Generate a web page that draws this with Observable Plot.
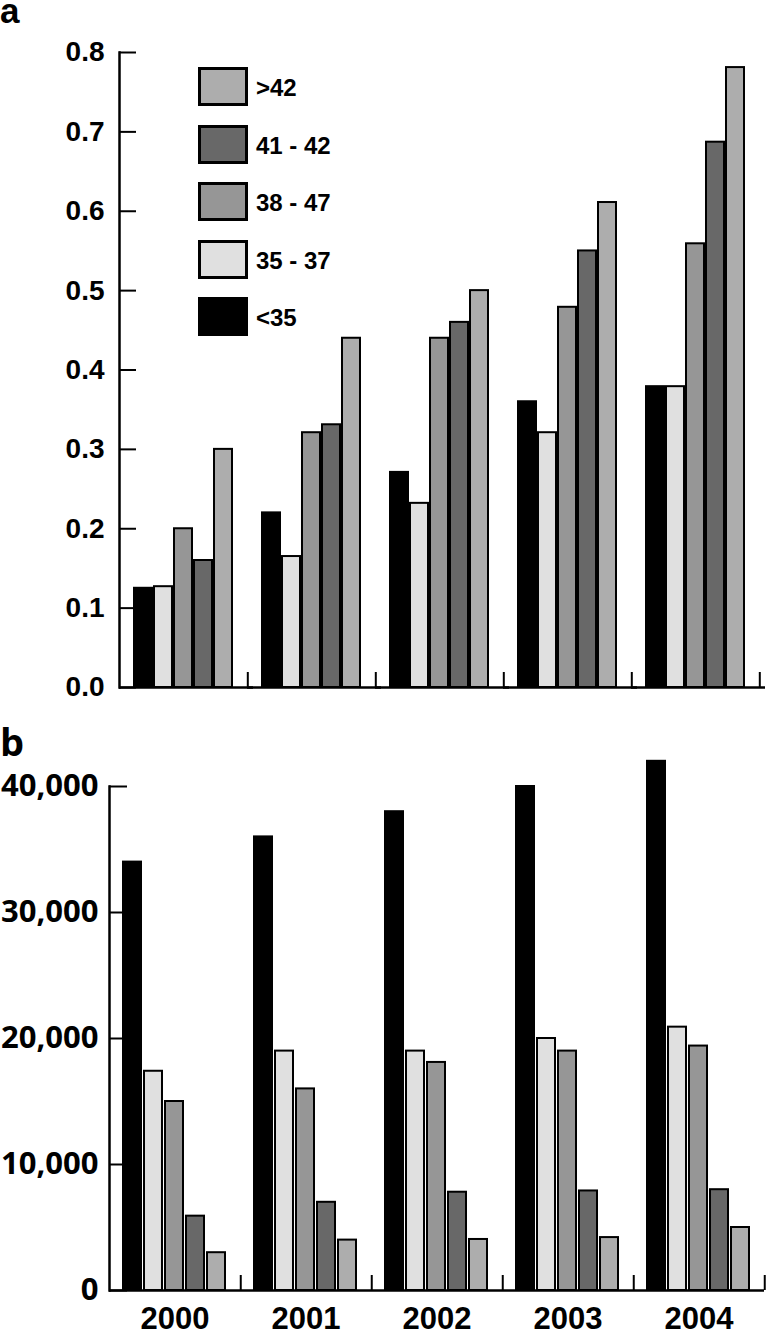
<!DOCTYPE html>
<html><head><meta charset="utf-8">
<script src="https://cdn.jsdelivr.net/npm/d3@7"></script>
<script src="https://cdn.jsdelivr.net/npm/@observablehq/plot@0.6"></script>
<style>
body{margin:0;background:#fff;}
#root{position:relative;width:767px;height:1335px;overflow:hidden;background:#fff;}
.abs{position:absolute;}
.panel-label{position:absolute;font-weight:bold;color:#000;}
.sw{position:absolute;width:50px;height:39px;box-sizing:border-box;border:3px solid #000;}
.lg{position:absolute;font-family:'Liberation Sans',Arial,sans-serif;font-weight:bold;font-size:24px;line-height:39px;color:#000;white-space:nowrap;}
</style></head><body><div id="root"></div>
<script>
// categories
const years = ["2000", "2001", "2002", "2003", "2004"];
const groups = ["<35", "35 - 37", "38 - 47", "41 - 42", ">42"];
const groupColors = ["#000000", "#e0e0e0", "#969696", "#686868", "#adadad"];
const legendOrder = [">42", "41 - 42", "38 - 47", "35 - 37", "<35"];

// panel a values (per year 2000..2004)
const aLt35   = [0.125, 0.22, 0.271, 0.36, 0.379];
const a35_37  = [0.127, 0.165, 0.232, 0.321, 0.379];
const a38_47  = [0.20, 0.321, 0.44, 0.479, 0.559];
const a41_42  = [0.16, 0.331, 0.46, 0.55, 0.687];
const aGt42   = [0.30, 0.44, 0.50, 0.611, 0.781];
const aTicks  = [0, 0.1, 0.2, 0.3, 0.4, 0.5, 0.6, 0.7, 0.8];

// panel b values (per year 2000..2004)
const bLt35   = [34000, 36000, 38000, 40000, 42000];
const b35_37  = [17400, 19000, 19000, 20000, 20900];
const b38_47  = [15000, 16000, 18100, 19000, 19400];
const b41_42  = [5900, 7000, 7800, 7900, 8000];
const bGt42   = [3000, 4000, 4050, 4200, 5000];
const bTicks  = [0, 10000, 20000, 30000, 40000];

function rows(series) {
  const out = [];
  years.forEach((y, i) => groups.forEach((g, j) => out.push({year: y, group: g, value: series[j][i]})));
  return out;
}
const rowsA = rows([aLt35, a35_37, a38_47, a41_42, aGt42]);
const rowsB = rows([bLt35, b35_37, b38_47, b41_42, bGt42]);

const root = document.getElementById("root");

// Panel a
const WA = 767, HA = 700, mLA = 117, mRA = 7;
const plotA = Plot.plot({
  width: WA, height: HA,
  marginTop: 52, marginBottom: 13, marginLeft: mLA, marginRight: mRA,
  style: {fontFamily: "'Liberation Sans', Arial, sans-serif", fontSize: "28px", fontWeight: "bold", color: "black", background: "transparent", overflow: "visible"},
  fx: {domain: years, padding: 0, label: null},
  x: {domain: groups, paddingInner: 0.12, paddingOuter: 0.62, axis: null},
  y: {domain: [0, 0.8], label: null},
  color: {domain: groups, range: groupColors},
  marks: [
    Plot.barY(rowsA, {fx: "year", x: "group", y: "value", fill: "group", stroke: "black", strokeWidth: 2}),
    Plot.ruleY([0], {strokeWidth: 2.5, insetRight: -6}),
    Plot.frame({anchor: "left", facetAnchor: "left", strokeWidth: 2.5}),
    Plot.axisY({ticks: aTicks, tickFormat: d3.format(".1f"), tickSize: -17, tickPadding: 32, strokeWidth: 2, label: null}),
    Plot.axisFx({anchor: "bottom", tickSize: -15, dx: (WA - mLA - mRA) / 10, fill: "none", strokeWidth: 2, label: null})
  ]
});
plotA.classList.add("abs");
plotA.style.left = "0px"; plotA.style.top = "0px";
root.appendChild(plotA);

// Panel b
const WB = 767, HB = 595, mLB = 108, mRB = 1.5;
const plotB = Plot.plot({
  width: WB, height: HB,
  marginTop: 46, marginBottom: 45, marginLeft: mLB, marginRight: mRB,
  style: {fontFamily: "'Open Sans', sans-serif", fontSize: "31px", fontWeight: "bold", color: "black", background: "transparent", overflow: "visible"},
  fx: {domain: years, padding: 0, label: null},
  x: {domain: groups, paddingInner: 0.12, paddingOuter: 0.66, axis: null},
  y: {domain: [0, 40000], label: null},
  color: {domain: groups, range: groupColors},
  marks: [
    Plot.barY(rowsB, {fx: "year", x: "group", y: "value", fill: "group", stroke: "black", strokeWidth: 2}),
    Plot.ruleY([0], {strokeWidth: 2.5}),
    Plot.frame({anchor: "left", facetAnchor: "left", strokeWidth: 2.5}),
    Plot.axisY({ticks: bTicks, tickFormat: d3.format(","), tickSize: -18, tickPadding: 29, strokeWidth: 2, label: null}),
    Plot.axisFx({anchor: "bottom", tickSize: -15, dx: (WB - mLB - mRB) / 10, fill: "none", strokeWidth: 2, label: null}),
    Plot.axisFx({anchor: "bottom", tickSize: 0, tickPadding: 16, fontFamily: "'Liberation Sans', Arial, sans-serif", fontSize: 31, label: null})
  ]
});
plotB.classList.add("abs");
plotB.style.left = "0px"; plotB.style.top = "740px";
root.appendChild(plotB);

// panel letters
const la = document.createElement("div");
la.className = "panel-label";
la.textContent = "a";
la.style.cssText += "left:0px;top:0px;line-height:22px;font-family:'Liberation Sans',Arial,sans-serif;font-size:35px;";
root.appendChild(la);
const lb = document.createElement("div");
lb.className = "panel-label";
lb.textContent = "b";
lb.style.cssText += "left:0px;top:726px;line-height:30px;font-family:'Open Sans',sans-serif;font-size:38px;";
root.appendChild(lb);

// legend (panel a)
legendOrder.forEach((g, i) => {
  const top = 67 + i * 57.5;
  const sw = document.createElement("div");
  sw.className = "sw";
  sw.style.left = "198px"; sw.style.top = top + "px";
  sw.style.background = groupColors[groups.indexOf(g)];
  root.appendChild(sw);
  const t = document.createElement("div");
  t.className = "lg";
  t.style.left = "256px"; t.style.top = (top + 1) + "px";
  t.textContent = g;
  root.appendChild(t);
});
</script>
</body></html>
